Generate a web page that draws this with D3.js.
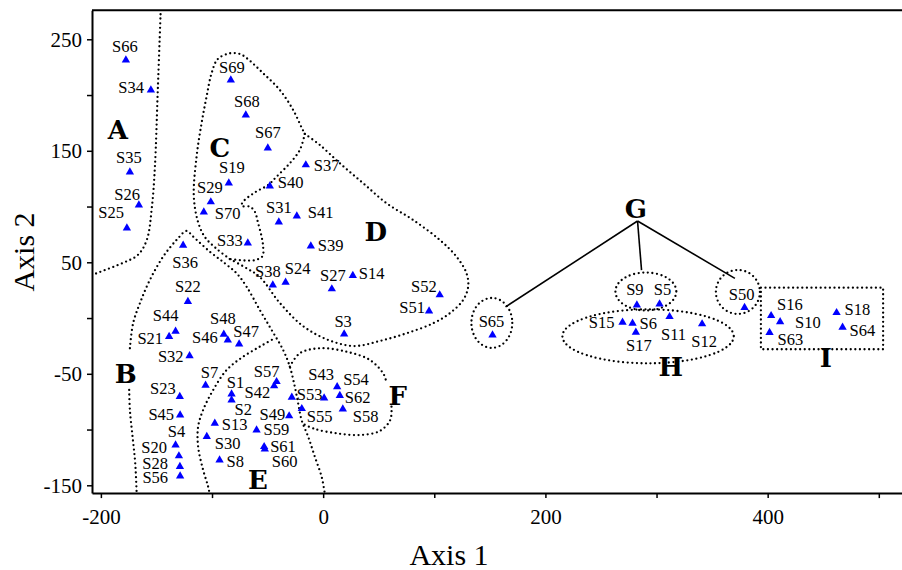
<!DOCTYPE html>
<html>
<head>
<meta charset="utf-8">
<script src="https://cdn.jsdelivr.net/npm/d3@7"></script>
<style>
body { margin: 0; background: #fff; }
svg text { font-family: "Liberation Serif", "Times New Roman", serif; fill: #000; }
.lbl { font-family: "Liberation Serif", "Times New Roman", serif; font-size: 16.5px; }
.grp { font-family: "DejaVu Serif", serif; font-weight: bold; font-size: 26px; }
.tick text { font-size: 21px; }
.tick line { stroke-width: 1.5; }
.domain { stroke-width: 2; }
.title { font-size: 30px; }
.dots { fill: none; stroke: #000; stroke-width: 2.3; stroke-dasharray: 0 4.6; stroke-linecap: round; }
</style>
</head>
<body>
<div id="chart"></div>
<script>
// sample scores on the two axes
var sampleNames = ["S1","S2","S3","S4","S5","S6","S7","S8","S9","S10",
  "S11","S12","S13","S14","S15","S16","S17","S18","S19","S20",
  "S21","S22","S23","S24","S25","S26","S27","S28","S29","S30",
  "S31","S32","S33","S34","S35","S36","S37","S38","S39","S40",
  "S41","S42","S43","S44","S45","S46","S47","S48","S49","S50",
  "S51","S52","S53","S54","S55","S56","S57","S58","S59","S60",
  "S61","S62","S63","S64","S65","S66","S67","S68","S69","S70"];
var axis1 = [-82.4,-82.4,18.9,-132.8,302.7,278.4,-105.8,-93.2,282.3,411.2,
  311.7,341.0,-97.5,26.7,269.4,403.1,281.4,462.0,-84.9,-129.8,
  -138.6,-121.7,-129.0,-33.8,-176.6,-165.8,7.8,-128.9,-101.1,-104.7,
  -39.9,-120.2,-67.8,-155.0,-173.9,-126.0,-15.6,-45.3,-11.1,-48.0,
  -23.7,-44.1,0.9,-132.8,-128.7,-85.8,-75.6,-89.4,-30.6,379.2,
  95.3,104.9,-28.2,12.6,-19.2,-128.7,-41.9,17.7,-59.9,-52.5,
  -53.1,15.0,401.7,467.4,152.4,-177.5,-49.8,-69.6,-83.1,-107.4];
var axis2 = [-68.1,-73.5,-14.3,-113.9,12.6,-4.7,-60.3,-127.3,11.7,-3.3,
  1.2,-5.3,-94.4,38.0,-3.8,2.1,-12.8,4.8,121.1,-123.7,
  -16.7,14.7,-70.5,32.1,80.7,101.4,26.1,-133.3,104.1,-106.4,
  86.1,-33.8,67.3,204.5,130.9,65.2,137.3,29.6,64.6,118.4,
  91.5,-60.9,-71.7,-11.9,-87.0,-19.7,-23.3,-14.6,-87.8,9.3,
  6.3,20.7,-71.1,-61.6,-81.3,-141.7,-57.1,-81.6,-100.4,-117.5,
  -115.4,-69.6,-13.1,-8.3,-15.2,231.4,152.5,182.1,213.5,95.1];

var xTicks = [-200,-100,0,100,200,300,400,500];
var xLabels = [-200,0,200,400];
var yTicks = [-150,-100,-50,0,50,100,150,200,250];
var yLabels = [-150,-50,50,150,250];

// group letters and where they sit (axis units)
var groupNames = ["A","B","C","D","E","F","G","H","I"];
var groupAt = [[-184.7,168.6],[-177.6,-50.3],[-93.0,152.5],[47.4,77.2],[-58.8,-145.3],
  [67.2,-69.3],[281.4,97.8],[312.9,-44.0],[452.4,-35.9]];

// hand drawn borders of the groups (axis units)
var borders = [
  [[-146.0,280.7],[-148.8,204.5],[-151.4,135.4],[-154.1,99.6],[-158.7,70.0],[-166.8,56.5],[-180.3,49.4],[-200.9,41.3],[-209.9,37.7]],
  [[-167.6,-163.3],[-169.1,-130.3],[-171.5,-106.4],[-173.9,-82.5],[-174.6,-61.6]],
  [[-173.9,-27.1],[-171.0,-4.7],[-164.9,13.2],[-155.9,34.2],[-144.0,55.0],[-131.9,70.0],[-122.9,78.1],[-117.0,73.0],
   [-102.0,59.5],[-88.5,49.1],[-77.9,40.1],[-68.9,28.1],[-57.0,7.2],[-46.4,-10.7],[-36.0,-28.7],[-30.0,-43.6],
   [-25.5,-61.6],[-22.5,-76.5],[-19.4,-91.5],[-13.5,-106.4],[-7.5,-124.4],[-1.4,-142.3],[1.5,-157.2],[3.3,-165.9]],
  [[-101.1,-163.2],[-103.5,-151.3],[-108.0,-136.3],[-112.5,-115.4],[-112.5,-97.4],[-108.0,-82.5],[-99.0,-64.6],
   [-86.9,-46.7],[-72.0,-34.7],[-57.0,-25.7],[-43.5,-18.0]],
  [[-30.0,-43.6],[-21.0,-31.6],[-3.0,-27.1],[21.1,-30.2],[42.0,-37.6],[54.0,-49.6],[56.4,-55.6]],
  [[61.5,-79.5],[60.4,-91.4],[51.0,-101.3],[33.0,-104.9],[12.1,-103.4],[-7.5,-99.5],[-17.8,-95.1]],
  [[-84.0,52.9],[-95.7,61.9],[-106.5,72.7],[-112.8,86.9],[-116.4,109.5],[-113.9,144.7],[-109.4,174.7],[-104.9,198.5],
   [-100.4,219.5],[-94.8,232.3],[-84.0,237.4],[-74.9,236.8],[-68.7,233.0],[-54.0,219.5],[-39.0,204.5],[-27.0,186.6],
   [-19.2,170.4],[-16.5,165.1]],
  [[-16.5,165.1],[-3.0,155.2],[15.0,138.8],[36.0,120.9],[57.1,102.9],[81.0,87.9],[105.0,70.0],[120.0,55.0],
   [129.0,40.1],[130.5,28.1],[126.0,16.2],[114.0,4.3],[99.0,-4.7],[75.0,-13.7],[51.0,-20.6],[27.6,-25.1],
   [4.2,-19.5],[-18.3,-7.1],[-39.0,13.5],[-57.0,36.8],[-68.9,44.6],[-84.0,52.9]],
  [[-16.5,165.1],[-21.0,150.7],[-30.0,138.8],[-41.9,126.8],[-49.5,119.3],[-61.5,112.6],[-72.0,104.3],[-73.4,100.5],
   [-66.0,99.9],[-61.5,95.4],[-58.5,85.0],[-55.4,73.0],[-54.0,64.0],[-54.5,55.6],[-60.6,52.1],[-70.5,51.6],[-84.0,52.9]]
];
var ovals = [[151.8,-4.4,18.4,22.4],[290.4,23.8,27.4,17.0],[292.4,-16.4,77.1,24.2],[373.2,23.4,19.8,19.7]];
var boxI = [393.9,27.2,503.9,-28.0];
var treeFrom = [282.9,87.0];
var treeTo = [[164.1,10.0],[286.5,43.0],[370.5,35.6]];

// label placement next to each triangle: dx, dy (px), anchor
var labelAt = {
  S66:[-1,-8,"m"],S34:[-7,3,"e"],S35:[-1,-9,"m"],S26:[1,-5,"e"],S25:[-3,-10,"e"],
  S69:[1,-7,"m"],S68:[1,-8,"m"],S67:[0,-10,"m"],S19:[3,-10,"m"],S29:[-1,-9,"m"],
  S70:[11,7,"s"],S40:[8,2,"s"],S31:[0,-9,"m"],S41:[11,2,"s"],S33:[-5,3,"e"],
  S37:[8,6,"s"],S39:[7,5,"s"],S38:[-5,-8,"m"],S24:[12,-8,"m"],S27:[1,-8,"m"],
  S14:[6,3,"s"],S52:[-3,-3,"e"],S51:[-4,2,"e"],S3:[-1,-7,"m"],S36:[2,23,"m"],
  S22:[0,-10,"m"],S44:[-10,-10,"m"],S21:[-6,7,"e"],S48:[-1,-10,"m"],S46:[-10,3,"e"],
  S47:[7,-7,"m"],S32:[-6,6,"e"],S7:[4,-7,"m"],S23:[-4,-3,"e"],S1:[4,-6,"m"],
  S42:[-4,12,"e"],S2:[3,15,"s"],S57:[-10,-5,"m"],S45:[-6,5,"e"],S4:[1,-8,"m"],
  S20:[-12,-3,"e"],S28:[-12,2,"e"],S56:[-12,7,"e"],S13:[7,7,"s"],S30:[8,12,"s"],
  S8:[7,7,"s"],S59:[7,5,"s"],S61:[6,5,"s"],S60:[7,18,"s"],S49:[-4,4,"e"],
  S53:[5,3,"s"],S55:[5,13,"s"],S43:[-3,-18,"m"],S54:[6,-2,"s"],S62:[5,7,"s"],
  S58:[10,13,"s"],S65:[-1,-8,"m"],S9:[-2,-10,"m"],S5:[3,-9,"m"],S15:[-8,6,"e"],
  S6:[7,6,"s"],S17:[3,19,"m"],S11:[4,23,"m"],S12:[2,23,"m"],S50:[-3,-8,"m"],
  S16:[6,-6,"s"],S10:[15,6,"s"],S63:[8,12,"s"],S18:[8,2,"s"],S64:[7,9,"s"]
};
var anchors = {s:"start", m:"middle", e:"end"};

var W = 902, H = 570;
var svg = d3.select("#chart").append("svg").attr("width", W).attr("height", H);

var x = d3.scaleLinear().domain([-208, 530]).range([92, 92 + 738 * 1.1113]);
var y = d3.scaleLinear().domain([-157, 276]).range([493.1, 10.3]);

svg.append("clipPath").attr("id", "plot")
  .append("rect").attr("x", 92).attr("y", 10.3).attr("width", 820).attr("height", 483);

// axes
var xAxis = d3.axisBottom(x).tickValues(xTicks).tickSize(5).tickSizeOuter(0).tickPadding(11)
  .tickFormat(function(d) { return xLabels.indexOf(d) >= 0 ? String(d) : ""; });
var yAxis = d3.axisLeft(y).tickValues(yTicks).tickSize(5).tickSizeOuter(0).tickPadding(5)
  .tickFormat(function(d) { return yLabels.indexOf(d) >= 0 ? String(d) : ""; });

svg.append("g").attr("transform", "translate(0," + y(-157) + ")").call(xAxis);
svg.append("g").attr("transform", "translate(" + x(-208) + ",0)").call(yAxis);
svg.append("line").attr("x1", x(-208)).attr("x2", W).attr("y1", y(276)).attr("y2", y(276))
  .attr("stroke", "#000").attr("stroke-width", 2);

svg.append("text").attr("class", "title").attr("text-anchor", "middle")
  .attr("x", 449).attr("y", 565).text("Axis 1");
svg.append("text").attr("class", "title").attr("text-anchor", "middle")
  .attr("transform", "translate(34,252) rotate(-90)").text("Axis 2");

// group borders
var plot = svg.append("g").attr("clip-path", "url(#plot)");
var line = d3.line().x(function(d) { return x(d[0]); }).y(function(d) { return y(d[1]); })
  .curve(d3.curveCatmullRom.alpha(0.5));
plot.selectAll("path.dots").data(borders).enter().append("path")
  .attr("class", "dots").attr("d", line);
plot.selectAll("ellipse").data(ovals).enter().append("ellipse")
  .attr("class", "dots")
  .attr("cx", function(d) { return x(d[0]); })
  .attr("cy", function(d) { return y(d[1]); })
  .attr("rx", function(d) { return x(d[0] + d[2]) - x(d[0]); })
  .attr("ry", function(d) { return y(d[1] - d[3]) - y(d[1]); });
plot.append("rect").attr("class", "dots")
  .attr("x", x(boxI[0])).attr("y", y(boxI[1]))
  .attr("width", x(boxI[2]) - x(boxI[0])).attr("height", y(boxI[3]) - y(boxI[1]));

plot.selectAll("line.tree").data(treeTo).enter().append("line")
  .attr("class", "tree")
  .attr("x1", x(treeFrom[0])).attr("y1", y(treeFrom[1]))
  .attr("x2", function(d) { return x(d[0]); })
  .attr("y2", function(d) { return y(d[1]); })
  .attr("stroke", "#000").attr("stroke-width", 1.6);

// triangles
var tri = d3.symbol().type(d3.symbolTriangle).size(30);
plot.selectAll("path.pt").data(sampleNames).enter().append("path")
  .attr("class", "pt")
  .attr("d", tri)
  .attr("transform", function(d, i) { return "translate(" + x(axis1[i]) + "," + y(axis2[i]) + ")"; })
  .attr("fill", "#0000ff");

plot.selectAll("text.lbl").data(sampleNames).enter().append("text")
  .attr("class", "lbl")
  .attr("x", function(d, i) { return x(axis1[i]) + labelAt[d][0]; })
  .attr("y", function(d, i) { return y(axis2[i]) + labelAt[d][1]; })
  .attr("text-anchor", function(d) { return anchors[labelAt[d][2]]; })
  .text(function(d) { return d; });

plot.selectAll("text.grp").data(groupNames).enter().append("text")
  .attr("class", "grp")
  .attr("text-anchor", "middle")
  .attr("x", function(d, i) { return x(groupAt[i][0]); })
  .attr("y", function(d, i) { return y(groupAt[i][1]); })
  .attr("dy", "0.36em")
  .text(function(d) { return d; });
</script>
</body>
</html>
